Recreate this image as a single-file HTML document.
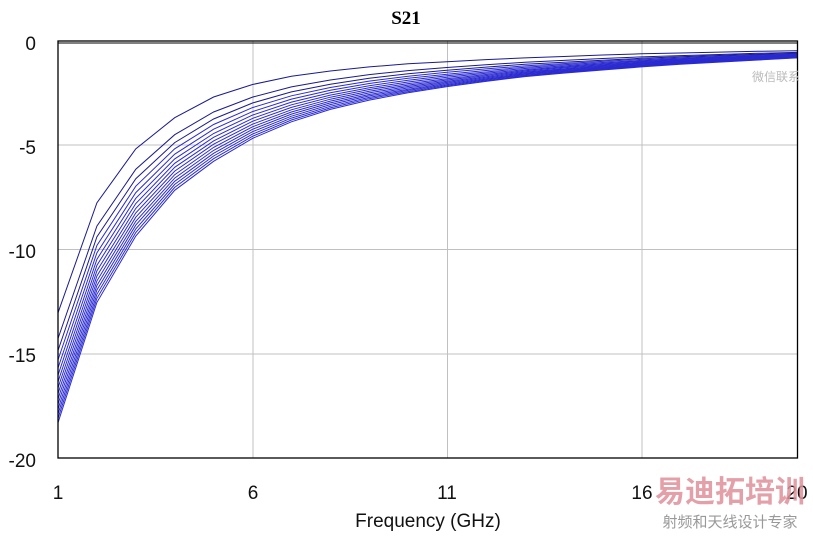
<!DOCTYPE html><html><head><style>body{margin:0;background:#fff;}svg{display:block}</style></head><body>
<svg id="s" width="813" height="536" xmlns="http://www.w3.org/2000/svg" font-family="Liberation Sans, sans-serif">
<rect width="813" height="536" fill="#fff"/>
<g stroke="#c0c0c0" stroke-width="1">
<line x1="253" y1="41" x2="253" y2="458"/><line x1="447.5" y1="41" x2="447.5" y2="458"/><line x1="642" y1="41" x2="642" y2="458"/>
<line x1="58" y1="145" x2="797" y2="145"/><line x1="58" y1="249.5" x2="797" y2="249.5"/><line x1="58" y1="354" x2="797" y2="354"/>
</g>
<g id="curves" fill="none" stroke="#1a1aa0" stroke-width="1"></g>
<rect x="58" y="41" width="739.5" height="417" fill="none" stroke="#000" stroke-width="1.3"/>
<line x1="58" y1="43" x2="797" y2="43" stroke="#000" stroke-width="1"/>
<text x="406" y="24" text-anchor="middle" font-family="Liberation Serif, serif" font-weight="bold" font-size="19">S21</text>
<g font-size="19" fill="#111" text-anchor="end">
<text x="36" y="50">0</text><text x="36" y="154">-5</text><text x="36" y="258">-10</text><text x="36" y="362">-15</text><text x="36" y="467">-20</text>
</g>
<g font-size="19" fill="#111" text-anchor="middle">
<text x="58" y="499">1</text><text x="253" y="499">6</text><text x="447" y="499">11</text><text x="642" y="499">16</text><text x="797" y="499">20</text>
</g>
<text x="428" y="527" text-anchor="middle" font-size="19" fill="#111">Frequency (GHz)</text>
<text x="730" y="502" text-anchor="middle" font-size="30" font-weight="bold" fill="#e0909a" font-family="Liberation Sans, Noto Sans CJK SC, sans-serif" opacity="0.85">易迪拓培训</text>
<text x="730" y="527" text-anchor="middle" font-size="15" fill="#999" font-family="Liberation Sans, Noto Sans CJK SC, sans-serif">射频和天线设计专家</text>
<text x="776" y="81" text-anchor="middle" font-size="12" fill="#bbb" font-family="Liberation Sans, Noto Sans CJK SC, sans-serif">微信联系</text>
</svg>
<script>
var top_=[-13,-7.7,-5.1,-3.6,-2.6,-2.0,-1.6,-1.35,-1.15,-1.0,-0.9,-0.8,-0.72,-0.65,-0.58,-0.52,-0.48,-0.44,-0.40,-0.37];
var bot=[-18.3,-12.5,-9.3,-7.1,-5.7,-4.6,-3.8,-3.2,-2.75,-2.4,-2.1,-1.85,-1.62,-1.45,-1.3,-1.15,-1.02,-0.92,-0.82,-0.72];
var g=document.getElementById('curves'),N=15,h='';
for(var k=0;k<N;k++){var t=Math.pow(k/(N-1),0.55);var d='';
for(var i=0;i<20;i++){var v=top_[i]+(bot[i]-top_[i])*t;var x=58+i*38.9;var y=43+(-v)*20.75;d+=(i?'L':'M')+x.toFixed(1)+' '+y.toFixed(1);}
var c=k<3?'#1a1a90':'#2a2ad0';h+='<path d="'+d+'" stroke="'+c+'"/>';}
g.innerHTML=h;
</script>
</body></html>
